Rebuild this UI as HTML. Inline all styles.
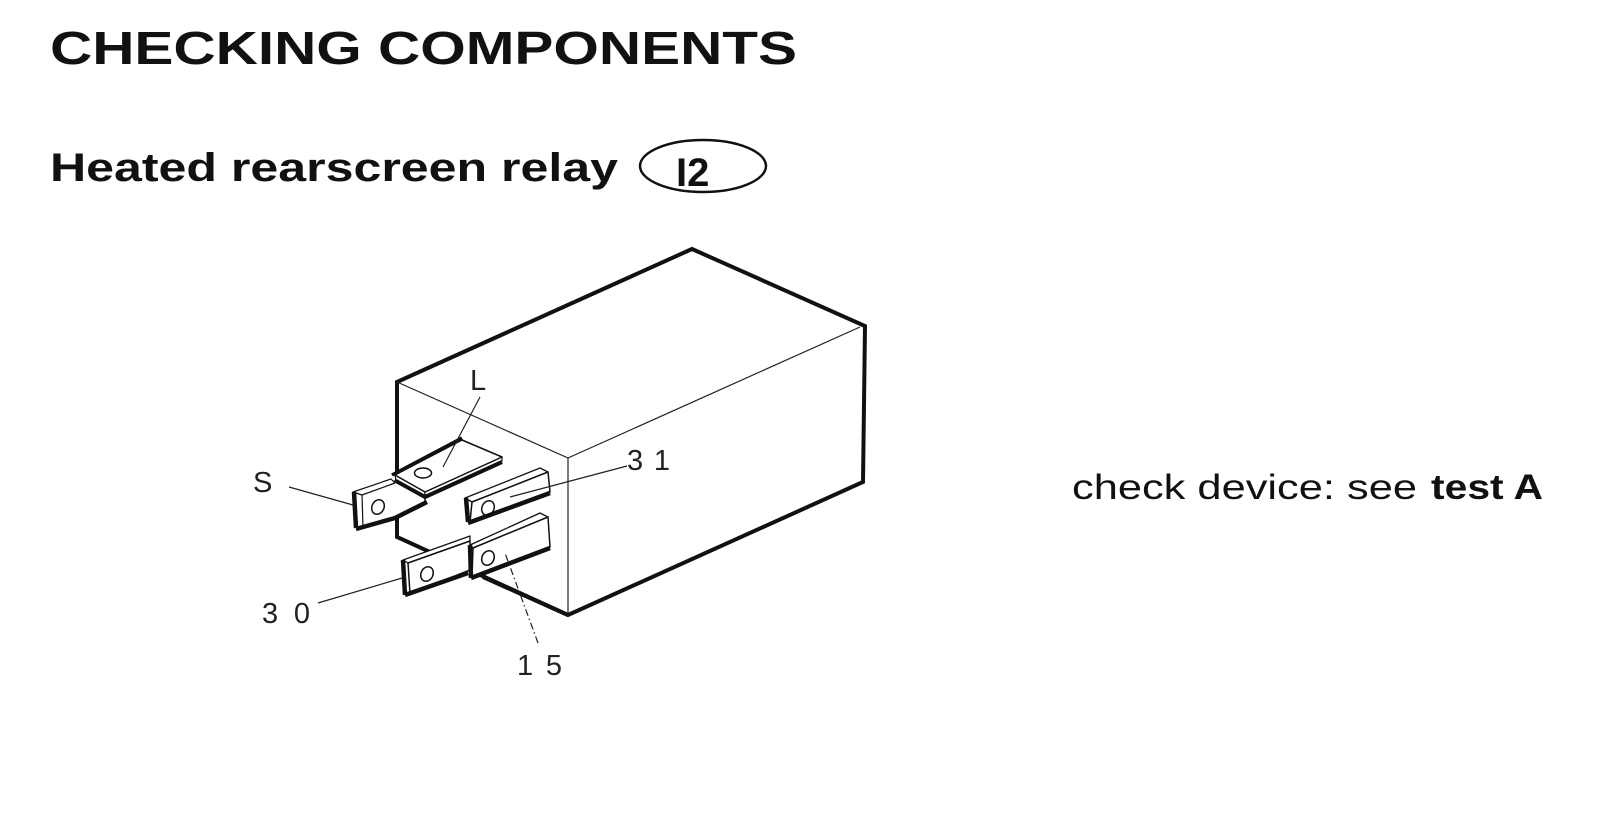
<!DOCTYPE html>
<html>
<head>
<meta charset="utf-8">
<style>
  html, body { margin:0; padding:0; background:#fff; }
  svg { display:block; }
</style>
</head>
<body>
<svg width="1612" height="819" viewBox="0 0 1612 819" xmlns="http://www.w3.org/2000/svg">
  <rect width="1612" height="819" fill="#fff"/>

  <!-- Headings -->
  <text x="50" y="64" font-family="Liberation Sans, Arial, sans-serif" font-weight="bold" font-size="46" textLength="747" lengthAdjust="spacingAndGlyphs" fill="#111">CHECKING COMPONENTS</text>
  <text x="50" y="181" font-family="Liberation Sans, Arial, sans-serif" font-weight="bold" font-size="40" textLength="568" lengthAdjust="spacingAndGlyphs" fill="#111">Heated rearscreen relay</text>
  <ellipse cx="703" cy="166" rx="63" ry="26" fill="none" stroke="#111" stroke-width="2.5"/>
  <text x="676" y="186" font-family="Liberation Sans, Arial, sans-serif" font-weight="bold" font-size="40" fill="#111">I2</text>

  <!-- Right text -->
  <text x="1072" y="499" font-family="Liberation Sans, Arial, sans-serif" font-size="35" textLength="345" lengthAdjust="spacingAndGlyphs" fill="#111">check device: see</text>
  <text x="1431" y="499" font-family="Liberation Sans, Arial, sans-serif" font-weight="bold" font-size="35" textLength="112" lengthAdjust="spacingAndGlyphs" fill="#111">test A</text>

  <!-- Relay box -->
  <polygon points="397,382 692,249 865,326 863,482 568,615 397,537" fill="#fff" stroke="#111" stroke-width="4" stroke-linejoin="miter"/>
  <g stroke="#222" stroke-width="1.2" fill="none">
    <line x1="397" y1="382" x2="568" y2="458"/>
    <line x1="568" y1="458" x2="860" y2="327"/>
    <line x1="568" y1="458" x2="568" y2="615"/>
  </g>

  <!-- Terminal S -->
  <g stroke="#111" fill="#fff" stroke-linejoin="round">
    <polygon points="355,493 395,481 425,490 425,502 395,517 363,528 355,527" stroke-width="1.5"/>
    <polygon points="353,492 391,479 395,483 362,495" stroke-width="1.2"/>
    <line x1="362" y1="495" x2="363" y2="528" stroke-width="1.2"/>
    <line x1="354" y1="492" x2="356" y2="528" stroke-width="4.5"/>
    <polyline points="356,529 395,518 427,502" fill="none" stroke-width="4.5"/>
    <ellipse cx="378" cy="507" rx="6" ry="7.5" transform="rotate(25 378 507)" fill="none" stroke-width="1.5"/>
  </g>

  <!-- Terminal L (flat) -->
  <g stroke="#111" fill="#fff" stroke-linejoin="round">
    <polygon points="395,475 425,492 425,496 396,480" stroke-width="1.2"/>
    <polygon points="425,492 502,457 502,461 425,496" stroke-width="1.2"/>
    <polygon points="395,475 462,440 502,457 425,492" stroke-width="1.5"/>
    <line x1="392" y1="475" x2="462" y2="438" stroke-width="3.5"/>
    <polyline points="396,481 425,497 502,462" fill="none" stroke-width="4"/>
    <ellipse cx="423" cy="473" rx="8.5" ry="5" fill="none" stroke-width="1.5"/>
  </g>

  <!-- Terminal 31 -->
  <g stroke="#111" fill="#fff" stroke-linejoin="round">
    <polygon points="465,498 540,468 548,472 472,502" stroke-width="1.3"/>
    <polygon points="472,502 548,472 550,492 470,522" stroke-width="1.5"/>
    <line x1="466" y1="498" x2="468" y2="522" stroke-width="4.5"/>
    <line x1="468" y1="523" x2="550" y2="493" stroke-width="4.5"/>
    <ellipse cx="488" cy="508" rx="6" ry="7.5" transform="rotate(25 488 508)" fill="none" stroke-width="1.5"/>
  </g>

  <!-- Terminal 30 -->
  <g stroke="#111" fill="#fff" stroke-linejoin="round">
    <polygon points="403,560 470,536 470,541 408,563" stroke-width="1.3"/>
    <polygon points="408,563 470,541 470,570 410,594" stroke-width="1.5"/>
    <line x1="403" y1="560" x2="405" y2="595" stroke-width="4.5"/>
    <line x1="405" y1="595" x2="468" y2="573" stroke-width="4.5"/>
    <ellipse cx="427" cy="574" rx="6" ry="7.5" transform="rotate(25 427 574)" fill="none" stroke-width="1.5"/>
  </g>

  <!-- Terminal 15 -->
  <g stroke="#111" fill="#fff" stroke-linejoin="round">
    <polygon points="470,545 540,513 548,517 473,548" stroke-width="1.3"/>
    <polygon points="473,548 548,517 550,547 472,577" stroke-width="1.5"/>
    <line x1="470" y1="545" x2="471" y2="578" stroke-width="4.5"/>
    <line x1="471" y1="578" x2="550" y2="548" stroke-width="4.5"/>
    <ellipse cx="488" cy="558" rx="6" ry="7.5" transform="rotate(25 488 558)" fill="none" stroke-width="1.5"/>
  </g>

  <!-- visible bottom edge segment -->
  <line x1="483" y1="577" x2="568" y2="615" stroke="#111" stroke-width="4"/>

  <!-- Leader lines -->
  <g stroke="#222" stroke-width="1.2" fill="none">
    <line x1="480" y1="397" x2="443" y2="467"/>
    <line x1="289" y1="487" x2="353" y2="505"/>
    <line x1="627" y1="466" x2="510" y2="497"/>
    <line x1="318" y1="603" x2="402" y2="578"/>
    <line x1="538" y1="643" x2="505" y2="553" stroke-dasharray="7 3 1.5 3"/>
  </g>

  <!-- Labels -->
  <g font-family="Liberation Sans, Arial, sans-serif" font-size="29" fill="#222">
    <text x="253" y="492">S</text>
    <text x="470" y="390">L</text>
    <text x="627" y="470" textLength="43" lengthAdjust="spacing">31</text>
    <text x="262" y="623" textLength="48" lengthAdjust="spacing">30</text>
    <text x="517" y="675" textLength="45" lengthAdjust="spacing">15</text>
  </g>
</svg>
</body>
</html>
